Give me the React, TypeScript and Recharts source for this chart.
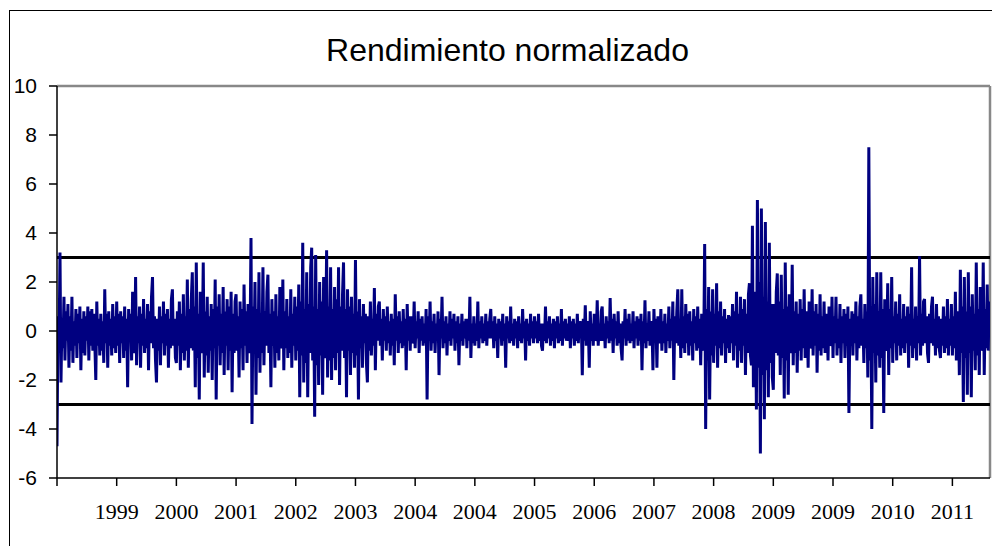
import React from 'react';
import { LineChart, Line, XAxis, YAxis, ReferenceLine } from 'recharts';

// x-axis labels under each tick (tick 0 has none)
const yearLabels = ['', '1999', '2000', '2001', '2002', '2003', '2004', '2004', '2005', '2006', '2007', '2008', '2009', '2009', '2010', '2011'];
const yTicks = [-6, -4, -2, 0, 2, 4, 6, 8, 10];
const bandLimits = [3, -3];
const X_MAX = 15.63;

// normalized returns, one array per tick interval
const seg0 = [-4.7, 0.6, -0.9, 3.2, -2.1, 0.5, -0.7, 1.4, -1.2, 0.8, -0.4, 1.1, -1.5, 0.6, -0.8, 1.4, -1.3, 0.4, -0.6, 0.9, -1.1, 0.7, -0.5, 1.0, -1.6, 0.5, -0.9, 0.8, -1.0, 0.6, -0.4, 1.0, -1.2, 0.8, -0.6, 0.9, -0.8, 0.7, -0.5, -2.0, 1.2, -0.6, 0.5, -1.0, 0.7, -0.8, 0.4, -1.3, 1.7, -0.5, 0.7, -1.5, 0.8, -0.6, 0.5, -1.0, 1.1, -0.7, 0.6, -0.9];
const seg1 = [1.2, -0.6, 0.7, -1.3, 0.8, -0.5, 0.6, -1.1, 1.0, -0.8, 0.5, -2.3, 0.9, -0.4, 0.7, -1.2, 1.6, -0.6, -0.9, 2.2, -1.4, 0.6, -0.5, 1.0, -1.5, 0.7, -0.6, 1.3, -0.9, 0.5, -0.7, 1.1, -1.6, 0.8, -0.5, 1.4, 2.2, -0.7, 0.6, -1.2, -2.1, 0.5, -0.8, 1.0, -1.4, 0.6, -0.5, 1.2, -1.0, 0.7, -0.6, 0.9, -1.5, 0.5, -0.7, 1.3, 1.7, -0.6, 0.5, -1.1];
const seg2 = [-1.3, 0.8, -0.6, 1.2, -1.6, 0.7, -0.9, 1.5, -1.2, 0.6, -0.8, 2.1, -1.5, 0.9, -0.7, 1.3, 2.4, -0.8, 1.0, -2.3, 2.8, -1.1, 0.7, -2.8, 1.6, -0.9, -0.6, 2.8, -1.9, 0.8, -1.0, 1.4, -1.7, 0.6, -0.8, 1.1, -2.0, 0.9, -0.7, 2.1, -2.8, 1.0, -0.6, 1.5, -1.4, 0.7, -0.9, 1.8, -1.8, 0.8, -0.6, 1.3, -1.6, 1.0, -0.8, 1.6, -2.5, 0.7, -0.9, 1.2];
const seg3 = [1.5, -0.8, 0.6, -1.9, 1.2, -0.7, 0.9, -1.6, 1.9, -0.6, 0.8, -1.3, 1.1, -0.9, -0.5, 3.8, -3.8, 1.0, -0.8, 2.0, -2.6, 0.9, -1.1, 2.4, -1.7, 0.7, -0.9, 2.6, -1.4, 0.8, -0.6, 1.6, 2.3, -0.9, 0.7, -2.3, 1.3, -0.6, 0.8, -1.5, 1.5, -0.9, 0.6, -1.2, 1.8, -0.7, -0.5, 2.1, -1.6, 0.8, -0.7, 1.3, -1.1, 0.6, -0.9, 1.7, -1.5, 0.7, -0.6, 1.4];
const seg4 = [-1.2, 1.0, -0.8, 1.9, -2.7, 1.2, -1.0, 3.6, -2.1, 0.9, -1.3, 2.4, -2.7, 1.1, -0.9, 2.6, 3.4, -1.2, 1.0, -3.5, 3.1, -1.4, 0.9, -2.2, 2.0, -1.0, 1.2, -2.6, 2.2, -1.1, -0.8, 3.3, -1.9, 1.0, -1.2, 2.6, -2.0, 0.9, -1.1, 1.8, -1.6, 1.3, -0.9, 2.6, -2.2, 1.0, -0.8, 1.5, 2.8, -1.1, 0.9, -2.7, 1.7, -0.8, 1.0, -1.8, 1.4, -0.9, 0.7, -1.5];
const seg5 = [2.9, -1.0, 0.8, -2.8, 1.3, -0.7, 0.6, -1.5, 1.1, -0.5, 0.7, -1.3, -2.1, 0.6, -0.8, 1.2, -1.0, 0.5, -0.6, 1.75, -1.6, 0.7, -0.4, 1.0, 1.2, -0.6, 0.5, -1.2, 0.9, -0.4, 0.6, -0.8, 1.0, -0.5, 0.4, -1.0, 0.7, -0.6, 0.5, -1.4, 1.5, -0.4, 0.6, -0.9, 0.8, -0.5, 0.4, -0.7, 0.9, -0.6, 0.5, -1.6, 1.1, -0.4, 0.6, -0.8, 0.6, -0.5, -0.4, 1.2];
const seg6 = [-0.7, 0.4, -0.3, 0.8, -0.9, 0.5, -0.4, 0.6, -0.6, 0.3, -0.5, 0.9, -2.8, 0.6, -0.4, 1.2, -0.8, 0.4, -0.5, 0.7, -0.9, 0.3, -0.4, 0.8, -1.8, 0.5, -0.3, 1.4, -0.7, 0.4, -0.5, 0.6, -1.0, 0.3, -0.4, 0.8, -0.6, 0.5, -0.3, 0.7, -0.8, 0.4, -0.5, 0.6, -1.4, 0.3, -0.4, 0.7, -0.6, 0.4, -0.3, 0.5, -0.7, 0.5, -0.4, 1.4, -1.1, 0.3, -0.5, 0.6];
const seg7 = [-0.6, 0.3, -0.4, 1.2, -0.7, 0.4, -0.3, 0.6, -0.5, 0.3, -0.4, 0.7, -0.6, 0.4, -0.3, 0.5, 0.9, -0.3, 0.4, -0.7, 0.6, -0.4, 0.3, -1.1, 0.5, -0.3, 0.4, -0.6, 0.7, -0.4, 0.3, -1.5, 0.6, -0.3, 0.4, -0.5, 1.0, -0.4, 0.3, -0.6, 0.5, -0.3, 0.4, -0.7, 0.6, -0.4, 0.3, -0.5, 0.9, -0.3, 0.4, -1.2, 0.5, -0.4, 0.3, -0.6, 0.7, -0.3, 0.4, -0.5];
const seg8 = [0.6, -0.3, 0.4, -0.5, 0.7, -0.4, 0.3, -0.6, -0.8, 0.3, -0.4, 1.0, -0.5, 0.4, -0.3, 0.6, -0.6, 0.3, -0.4, 0.5, -0.7, 0.4, -0.3, 0.6, -0.5, 0.3, -0.4, 0.9, -0.6, 0.4, -0.3, 0.5, -0.4, 0.3, -0.4, 0.6, -0.7, 0.4, -0.3, 0.5, -0.6, 0.3, -0.4, 0.7, -0.5, 0.4, -0.3, 0.4, -1.8, 0.5, -0.4, 1.05, -0.6, 0.4, 0.3, -1.5, 0.8, -0.4, 0.3, -0.6];
const seg9 = [0.7, -0.4, -0.3, 1.25, -0.6, 0.3, -0.4, 0.8, 1.0, -0.4, 0.3, -0.7, 0.6, -0.3, 0.4, -0.5, 1.35, -0.4, 0.5, -0.9, 0.7, -0.3, 0.4, -0.6, 0.8, -0.5, 0.3, -0.7, -1.2, 0.4, -0.3, 0.9, -0.6, 0.5, -0.4, 0.7, -0.5, 0.3, -0.4, 0.8, -0.7, 0.4, -0.3, 0.6, -0.6, 0.5, -0.4, 0.7, -1.6, 0.4, -0.5, 1.25, -0.7, 0.3, -0.4, 0.8, -0.6, 0.4, 0.3, -1.6];
const seg10 = [0.9, -0.4, 0.5, -1.5, 0.6, -0.5, -0.3, 0.9, -0.8, 0.4, -0.5, 0.7, -0.9, 0.3, -0.4, 1.0, -0.7, 0.5, -0.4, 1.2, -2.0, 0.6, -0.5, 0.8, 1.7, -0.6, 0.5, -1.1, 1.7, -0.7, 0.6, -0.9, 1.1, -0.5, 0.7, -1.0, 0.8, -0.6, 0.4, -1.2, 0.9, -0.5, 0.6, -0.8, 1.0, -0.7, 0.5, -1.4, 0.7, -0.6, -0.8, 3.55, -4.0, 0.9, -1.2, 1.8, -2.8, 0.8, -1.0, 1.7];
const seg11 = [-1.3, 0.7, -0.6, 1.95, -1.5, 0.8, -0.7, 1.2, -1.0, 0.6, -0.5, 0.9, -1.3, 0.5, -0.7, 0.65, -0.9, 0.6, -0.5, 1.1, -1.2, 0.8, -0.6, 1.6, -1.5, 0.7, -0.8, 1.4, -1.3, 0.9, -0.6, 1.3, -1.8, 0.7, -0.9, 1.5, 1.95, -1.0, -1.4, 4.3, -2.3, 1.2, 1.6, -3.2, 5.35, -1.5, 2.0, -5.0, 5.0, -1.8, 1.4, -3.6, 4.45, -1.6, 1.2, -2.7, 3.6, -1.3, 1.1, -1.9];
const seg12 = [-2.4, 1.1, -0.9, 1.6, 2.35, -1.0, 1.2, -1.8, 2.3, -1.1, 0.9, -2.75, 2.8, -1.2, 1.0, -2.6, 1.5, -0.9, -0.7, 2.7, -1.4, 0.8, -0.9, 1.2, -1.7, 0.7, -0.8, 1.3, -1.2, 0.9, -0.7, 1.7, -1.1, 0.6, 0.8, -1.5, 1.2, -0.7, -0.6, 1.7, -1.0, 0.8, -0.6, 1.1, -1.7, 0.7, -0.8, 1.5, -1.0, 0.6, -0.7, 1.2, -0.9, 0.7, 0.5, -1.2, 1.0, -0.6, -0.5, 1.4];
const seg13 = [-1.1, 0.6, -0.5, 1.4, -1.0, 0.5, -0.7, 1.1, -1.3, 0.6, -0.5, 0.9, -1.1, 0.7, -0.6, 1.0, -3.35, 0.5, -0.6, 0.8, -1.0, 0.7, -0.5, 1.2, -1.2, 0.6, -0.7, 1.0, 1.5, -0.6, 0.5, -1.3, 1.1, -0.7, 0.8, -1.9, 7.5, -1.2, 1.0, -4.0, 2.2, -0.9, 1.1, -2.1, 2.4, -1.0, 0.8, -1.5, 2.4, -1.1, 0.9, -3.35, 1.3, -0.8, -0.6, 1.95, -1.8, 0.9, -0.7, 2.2];
const seg14 = [-1.3, 0.6, -0.5, 1.2, -1.2, 0.7, -0.6, 1.5, -1.0, 0.5, -0.7, 1.1, -0.9, 0.6, -0.5, 1.0, -1.5, 0.7, -0.6, 2.6, -1.1, 0.5, -0.7, 1.0, -1.2, 0.6, -0.5, 3.05, -1.0, 0.7, -0.6, 1.2, 1.3, -0.5, 0.6, -0.9, -1.3, 0.7, -0.5, 1.0, 1.4, -0.6, 0.5, -1.0, 1.1, -0.7, 0.6, -0.8, -1.1, 0.5, -0.6, 1.0, -0.9, 0.6, -0.7, 1.3, -1.0, 0.5, -0.6, 1.1];
const seg15 = [-1.0, 0.6, -0.7, 1.6, -1.2, 0.8, 0.6, -1.8, 2.5, -0.9, 1.0, -2.9, 2.2, -1.1, 0.8, -2.6, 2.4, -0.9, 1.0, -2.7, 1.5, -0.8, 0.7, -1.6, 2.8, -1.0, 0.9, -1.8, 1.8, -0.8, -0.6, 2.8, -1.8, 0.9, -0.7, 1.9, -0.8, 1.2];

const segments = [seg0, seg1, seg2, seg3, seg4, seg5, seg6, seg7, seg8, seg9, seg10, seg11, seg12, seg13, seg14, seg15];
const POINTS_PER_TICK = 60;

const data = segments.flatMap((seg, k) =>
  seg.map((v, j) => ({ x: k + j / POINTS_PER_TICK, v }))
);

export default function App() {
  return (
    <div style={{ position: 'relative', width: 992, height: 546, overflow: 'hidden', background: '#fff' }}>
      <style>{`html,body{margin:0;padding:0;overflow:hidden;}`}</style>
      <div
        style={{
          position: 'absolute',
          left: 9,
          top: 10,
          width: 990,
          height: 560,
          borderTop: '1.5px solid #000',
          borderLeft: '1.5px solid #000',
          boxSizing: 'border-box',
        }}
      />
      <div
        style={{
          position: 'absolute',
          left: 8,
          width: 999,
          top: 32,
          textAlign: 'center',
          fontFamily: 'Liberation Sans, Arial, sans-serif',
          fontSize: 32,
          lineHeight: '36px',
          color: '#000',
        }}
      >
        Rendimiento normalizado
      </div>
      <LineChart
        width={992}
        height={546}
        data={data}
        margin={{ top: 86, right: 2, bottom: 0, left: 0 }}
        style={{ position: 'absolute', left: 0, top: 0 }}
      >
        <XAxis
          dataKey="x"
          type="number"
          domain={[0, X_MAX]}
          ticks={yearLabels.map((_, i) => i)}
          tickFormatter={(v: number) => yearLabels[v] ?? ''}
          allowDataOverflow
          height={68}
          tickSize={8}
          tickMargin={17}
          interval={0}
          axisLine={{ stroke: '#000', strokeWidth: 1.5 }}
          tickLine={{ stroke: '#000', strokeWidth: 1.5 }}
          tick={{ fill: '#000', fontSize: 22, fontFamily: 'Liberation Serif, Times New Roman, serif' }}
        />
        <YAxis
          domain={[-6, 10]}
          ticks={yTicks}
          width={57}
          tickSize={8}
          tickMargin={12}
          interval={0}
          axisLine={{ stroke: '#000', strokeWidth: 1.5 }}
          tickLine={{ stroke: '#000', strokeWidth: 1.5 }}
          tick={{ fill: '#000', fontSize: 21, fontFamily: 'Liberation Sans, Arial, sans-serif' }}
        />
        <ReferenceLine y={10} stroke="#888" strokeWidth={2.5} />
        <ReferenceLine x={X_MAX} stroke="#888" strokeWidth={2.5} />
        {bandLimits.map((b) => (
          <ReferenceLine key={b} y={b} stroke="#000" strokeWidth={3} />
        ))}
        <Line
          type="linear"
          dataKey="v"
          stroke="#000080"
          strokeWidth={3}
          dot={false}
          isAnimationActive={false}
        />
      </LineChart>
    </div>
  );
}
